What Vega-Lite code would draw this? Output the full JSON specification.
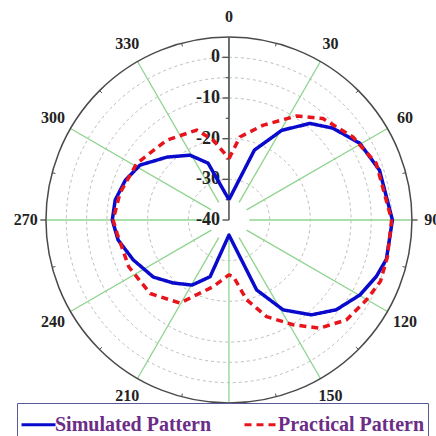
{
  "$schema": "https://vega.github.io/schema/vega-lite/v6.json",
  "width": 436,
  "height": 436,
  "padding": 0,
  "autosize": {"type": "none"},
  "background": "white",
  "config": {"view": {"stroke": null}, "axis": {"disable": true}},
  "datasets": {
    "rings": [{"db": 0}, {"db": -5}, {"db": -10}, {"db": -20}, {"db": -30}],
    "outer": [{"db": 5}],
    "spokes": [{"angle": 0}, {"angle": 30}, {"angle": 60}, {"angle": 90}, {"angle": 120}, {"angle": 150}, {"angle": 180}, {"angle": 210}, {"angle": 240}, {"angle": 270}, {"angle": 300}, {"angle": 330}],
    "minorAngles": [{"angle": 15}, {"angle": 45}, {"angle": 75}, {"angle": 105}, {"angle": 135}, {"angle": 165}, {"angle": 195}, {"angle": 225}, {"angle": 255}, {"angle": 285}, {"angle": 315}, {"angle": 345}],
    "majorTicks": [{"db": 0, "label": "0"}, {"db": -10, "label": "-10"}, {"db": -20, "label": "-20"}, {"db": -30, "label": "-30"}, {"db": -40, "label": "-40"}],
    "minorTicks": [{"db": -5}, {"db": -15}, {"db": -25}, {"db": -35}],
    "pattern": [
      {"series": "Simulated Pattern", "angle": 0, "db": -35},
      {"series": "Simulated Pattern", "angle": 20, "db": -21.7},
      {"series": "Simulated Pattern", "angle": 30.5, "db": -14.4},
      {"series": "Simulated Pattern", "angle": 40, "db": -9},
      {"series": "Simulated Pattern", "angle": 48.5, "db": -5.9},
      {"series": "Simulated Pattern", "angle": 59.6, "db": -2.7},
      {"series": "Simulated Pattern", "angle": 71.7, "db": -1},
      {"series": "Simulated Pattern", "angle": 90, "db": 0.2},
      {"series": "Simulated Pattern", "angle": 104, "db": -0.1},
      {"series": "Simulated Pattern", "angle": 111, "db": -1.2},
      {"series": "Simulated Pattern", "angle": 119.8, "db": -2.9},
      {"series": "Simulated Pattern", "angle": 129.9, "db": -5.6},
      {"series": "Simulated Pattern", "angle": 139, "db": -9.1},
      {"series": "Simulated Pattern", "angle": 148.9, "db": -14.2},
      {"series": "Simulated Pattern", "angle": 158.4, "db": -21.5},
      {"series": "Simulated Pattern", "angle": 180, "db": -36.3},
      {"series": "Simulated Pattern", "angle": 198.4, "db": -25.3},
      {"series": "Simulated Pattern", "angle": 209.6, "db": -21.6},
      {"series": "Simulated Pattern", "angle": 221.6, "db": -19.3},
      {"series": "Simulated Pattern", "angle": 233, "db": -16.7},
      {"series": "Simulated Pattern", "angle": 247.4, "db": -14.5},
      {"series": "Simulated Pattern", "angle": 259.8, "db": -12.3},
      {"series": "Simulated Pattern", "angle": 270, "db": -11.3},
      {"series": "Simulated Pattern", "angle": 280, "db": -11.6},
      {"series": "Simulated Pattern", "angle": 291, "db": -12.7},
      {"series": "Simulated Pattern", "angle": 301.7, "db": -14.3},
      {"series": "Simulated Pattern", "angle": 315.5, "db": -18.3},
      {"series": "Simulated Pattern", "angle": 329, "db": -21.4},
      {"series": "Simulated Pattern", "angle": 339.8, "db": -25.1},
      {"series": "Simulated Pattern", "angle": 360, "db": -35},
      {"series": "Practical Pattern", "angle": 0, "db": -24.9},
      {"series": "Practical Pattern", "angle": 7.5, "db": -19.4},
      {"series": "Practical Pattern", "angle": 19.9, "db": -15.2},
      {"series": "Practical Pattern", "angle": 33, "db": -9.5},
      {"series": "Practical Pattern", "angle": 42.8, "db": -6},
      {"series": "Practical Pattern", "angle": 56.2, "db": -3.3},
      {"series": "Practical Pattern", "angle": 69, "db": -1.2},
      {"series": "Practical Pattern", "angle": 90, "db": 0},
      {"series": "Practical Pattern", "angle": 103, "db": 0},
      {"series": "Practical Pattern", "angle": 112, "db": 0.2},
      {"series": "Practical Pattern", "angle": 120.2, "db": -0.9},
      {"series": "Practical Pattern", "angle": 130.4, "db": -2.1},
      {"series": "Practical Pattern", "angle": 140, "db": -5.3},
      {"series": "Practical Pattern", "angle": 148.5, "db": -9.8},
      {"series": "Practical Pattern", "angle": 158.7, "db": -14.5},
      {"series": "Practical Pattern", "angle": 167.5, "db": -19.9},
      {"series": "Practical Pattern", "angle": 175.6, "db": -26.1},
      {"series": "Practical Pattern", "angle": 180, "db": -26.5},
      {"series": "Practical Pattern", "angle": 193.2, "db": -23.2},
      {"series": "Practical Pattern", "angle": 210.5, "db": -16.3},
      {"series": "Practical Pattern", "angle": 227, "db": -13.5},
      {"series": "Practical Pattern", "angle": 245, "db": -12.8},
      {"series": "Practical Pattern", "angle": 263, "db": -12.3},
      {"series": "Practical Pattern", "angle": 270, "db": -11.5},
      {"series": "Practical Pattern", "angle": 284, "db": -12.4},
      {"series": "Practical Pattern", "angle": 301.6, "db": -13.4},
      {"series": "Practical Pattern", "angle": 322, "db": -15.1},
      {"series": "Practical Pattern", "angle": 340.3, "db": -16.5},
      {"series": "Practical Pattern", "angle": 348.9, "db": -20},
      {"series": "Practical Pattern", "angle": 360, "db": -24.9}
    ]
  },
  "layer": [
    {
      "data": {"name": "rings"},
      "transform": [{"calculate": "datum.db + 40", "as": "u"}],
      "mark": {"type": "arc", "filled": false, "stroke": "#bdbdbd", "strokeWidth": 1, "strokeDash": [3, 3], "theta": 0, "theta2": 6.2832},
      "encoding": {
        "x": {"datum": 0, "type": "quantitative", "scale": {"domain": [-56.31, 50.92], "nice": false, "zero": false}},
        "y": {"datum": 0, "type": "quantitative", "scale": {"domain": [-53.11, 54.10], "nice": false, "zero": false}},
        "radius": {"field": "u", "type": "quantitative", "stack": null, "scale": {"type": "linear", "domain": [0, 45], "range": [0, 183], "zero": true, "nice": false}}
      }
    },
    {
      "data": {"name": "spokes"},
      "transform": [
        {"calculate": "5*sin(datum.angle*PI/180)", "as": "x1"},
        {"calculate": "5*cos(datum.angle*PI/180)", "as": "y1"},
        {"calculate": "45*sin(datum.angle*PI/180)", "as": "x2"},
        {"calculate": "45*cos(datum.angle*PI/180)", "as": "y2"}
      ],
      "mark": {"type": "rule", "stroke": "#8fd48f", "strokeWidth": 1.3},
      "encoding": {
        "x": {"field": "x1", "type": "quantitative"},
        "y": {"field": "y1", "type": "quantitative"},
        "x2": {"field": "x2"},
        "y2": {"field": "y2"}
      }
    },
    {
      "data": {"name": "outer"},
      "transform": [{"calculate": "datum.db + 40", "as": "u"}],
      "mark": {"type": "arc", "filled": false, "stroke": "#4a4a4a", "strokeWidth": 1.5, "theta": 0, "theta2": 6.2832},
      "encoding": {
        "x": {"datum": 0, "type": "quantitative"},
        "y": {"datum": 0, "type": "quantitative"},
        "radius": {"field": "u", "type": "quantitative", "stack": null}
      }
    },
    {
      "data": {"name": "minorAngles"},
      "transform": [
        {"calculate": "44.2*sin(datum.angle*PI/180)", "as": "x1"},
        {"calculate": "44.2*cos(datum.angle*PI/180)", "as": "y1"},
        {"calculate": "45*sin(datum.angle*PI/180)", "as": "x2"},
        {"calculate": "45*cos(datum.angle*PI/180)", "as": "y2"}
      ],
      "mark": {"type": "rule", "stroke": "#4a4a4a", "strokeWidth": 1},
      "encoding": {
        "x": {"field": "x1", "type": "quantitative"},
        "y": {"field": "y1", "type": "quantitative"},
        "x2": {"field": "x2"},
        "y2": {"field": "y2"}
      }
    },
    {
      "data": {"values": [{"angle": 90}, {"angle": 270}]},
      "transform": [
        {"calculate": "45*sin(datum.angle*PI/180)", "as": "x1"},
        {"calculate": "46.4*sin(datum.angle*PI/180)", "as": "x2"}
      ],
      "mark": {"type": "rule", "stroke": "#4a4a4a", "strokeWidth": 1.3},
      "encoding": {
        "x": {"field": "x1", "type": "quantitative"},
        "x2": {"field": "x2"},
        "y": {"datum": 0, "type": "quantitative"}
      }
    },
    {
      "data": {"values": [{"a": 0}]},
      "mark": {"type": "rule", "stroke": "#555555", "strokeWidth": 1.6},
      "encoding": {
        "x": {"datum": 0, "type": "quantitative"},
        "y": {"datum": 0, "type": "quantitative"},
        "y2": {"datum": 45}
      }
    },
    {
      "data": {"name": "majorTicks"},
      "transform": [{"calculate": "datum.db + 40", "as": "u"}],
      "mark": {"type": "rule", "stroke": "#555555", "strokeWidth": 1.4},
      "encoding": {
        "x": {"datum": -1.6, "type": "quantitative"},
        "x2": {"datum": 0},
        "y": {"field": "u", "type": "quantitative"}
      }
    },
    {
      "data": {"name": "minorTicks"},
      "transform": [{"calculate": "datum.db + 40", "as": "u"}],
      "mark": {"type": "rule", "stroke": "#555555", "strokeWidth": 1.2},
      "encoding": {
        "x": {"datum": -0.8, "type": "quantitative"},
        "x2": {"datum": 0},
        "y": {"field": "u", "type": "quantitative"}
      }
    },
    {
      "data": {"name": "majorTicks"},
      "transform": [{"calculate": "datum.db + 40", "as": "u"}],
      "mark": {"type": "text", "align": "right", "baseline": "middle", "dx": -9, "font": "Liberation Serif", "fontWeight": "bold", "fontSize": 18, "fill": "#222222"},
      "encoding": {
        "x": {"datum": 0, "type": "quantitative"},
        "y": {"field": "u", "type": "quantitative"},
        "text": {"field": "label"}
      }
    },
    {
      "data": {"name": "spokes"},
      "transform": [
        {"calculate": "50*sin(datum.angle*PI/180)", "as": "tx"},
        {"calculate": "50*cos(datum.angle*PI/180)", "as": "ty"}
      ],
      "mark": {"type": "text", "align": "center", "baseline": "middle", "font": "Liberation Serif", "fontWeight": "bold", "fontSize": 16, "fill": "#222222"},
      "encoding": {
        "x": {"field": "tx", "type": "quantitative"},
        "y": {"field": "ty", "type": "quantitative"},
        "text": {"field": "angle", "type": "nominal"}
      }
    },
    {
      "data": {"name": "pattern"},
      "transform": [
        {"calculate": "(datum.db + 40)*sin(datum.angle*PI/180)", "as": "px"},
        {"calculate": "(datum.db + 40)*cos(datum.angle*PI/180)", "as": "py"}
      ],
      "mark": {"type": "line", "strokeWidth": 3.5, "strokeJoin": "round"},
      "encoding": {
        "x": {"field": "px", "type": "quantitative"},
        "y": {"field": "py", "type": "quantitative"},
        "order": {"field": "angle", "type": "quantitative"},
        "color": {
          "field": "series", "type": "nominal",
          "scale": {"domain": ["Simulated Pattern", "Practical Pattern"], "range": ["#0a0acd", "#e8141c"]},
          "legend": {
            "orient": "none", "legendX": 17, "legendY": 403, "direction": "horizontal", "title": null,
            "strokeColor": "#5a5a9a", "fillColor": "white", "padding": 3,
            "labelFont": "Liberation Serif", "labelFontWeight": "bold", "labelFontSize": 20, "labelColor": "#6b2d86",
            "labelOffset": -2, "columnPadding": 26, "symbolType": "stroke", "symbolSize": 1156, "symbolStrokeWidth": 3
          }
        },
        "strokeDash": {
          "field": "series", "type": "nominal",
          "scale": {"domain": ["Simulated Pattern", "Practical Pattern"], "range": [[1, 0], [7, 5]]}
        }
      }
    }
  ]
}
